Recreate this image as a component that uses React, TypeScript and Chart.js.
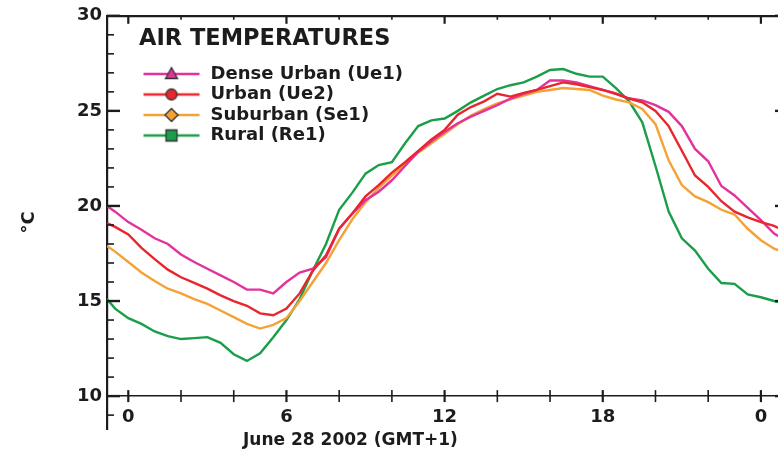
import React, { useEffect, useRef } from 'react';
import { Chart, registerables } from 'chart.js';

Chart.register(...registerables);

// ---- data (hours after midnight, June 28 2002, GMT+1) ----
const HOURS = [-0.81, -0.5, 0, 0.5, 1, 1.5, 2, 2.5, 3, 3.5, 4, 4.5, 5, 5.5, 6, 6.5, 7, 7.5, 8, 8.5, 9, 9.5, 10, 10.5, 11, 11.5, 12, 12.5, 13, 13.5, 14, 14.5, 15, 15.5, 16, 16.5, 17, 17.5, 18, 18.5, 19, 19.5, 20, 20.5, 21, 21.5, 22, 22.5, 23, 23.5, 24, 24.5, 24.8];

const DENSE_URBAN = [20.0, 19.7, 19.15, 18.75, 18.3, 18.0, 17.45, 17.05, 16.7, 16.35, 16.0, 15.6, 15.6, 15.4, 16.0, 16.5, 16.7, 17.3, 18.8, 19.6, 20.3, 20.75, 21.35, 22.1, 22.85, 23.4, 23.9, 24.35, 24.7, 25.0, 25.3, 25.65, 25.9, 26.1, 26.6, 26.6, 26.5, 26.3, 26.1, 25.9, 25.65, 25.55, 25.3, 24.95, 24.2, 23.0, 22.35, 21.05, 20.55, 19.9, 19.25, 18.55, 18.3];

const URBAN = [19.1, 18.9, 18.5, 17.8, 17.2, 16.65, 16.25, 15.95, 15.65, 15.3, 15.0, 14.75, 14.35, 14.25, 14.6, 15.4, 16.6, 17.4, 18.8, 19.6, 20.5, 21.1, 21.75, 22.3, 22.9, 23.5, 24.0, 24.8, 25.2, 25.5, 25.9, 25.75, 25.95, 26.1, 26.3, 26.5, 26.4, 26.25, 26.1, 25.9, 25.65, 25.45, 25.0, 24.2, 22.9, 21.6, 21.0, 20.25, 19.7, 19.4, 19.15, 18.95, 18.75];

const SUBURBAN = [17.9, 17.6, 17.05, 16.5, 16.05, 15.65, 15.4, 15.1, 14.85, 14.5, 14.15, 13.8, 13.55, 13.75, 14.1, 15.0, 16.0, 17.0, 18.2, 19.3, 20.2, 20.95, 21.6, 22.2, 22.8, 23.3, 23.8, 24.3, 24.75, 25.1, 25.4, 25.6, 25.8, 26.0, 26.1, 26.2, 26.15, 26.1, 25.8, 25.6, 25.45, 25.1, 24.3, 22.4, 21.1, 20.5, 20.2, 19.8, 19.55, 18.8, 18.2, 17.75, 17.6];

const RURAL = [15.1, 14.6, 14.1, 13.8, 13.4, 13.15, 13.0, 13.05, 13.1, 12.8, 12.2, 11.85, 12.25, 13.1, 14.0, 15.1, 16.6, 18.0, 19.8, 20.7, 21.7, 22.15, 22.3, 23.3, 24.2, 24.5, 24.6, 25.0, 25.45, 25.8, 26.15, 26.35, 26.5, 26.8, 27.15, 27.2, 26.95, 26.8, 26.8, 26.2, 25.5, 24.4, 22.1, 19.7, 18.3, 17.65, 16.7, 15.95, 15.9, 15.35, 15.2, 15.0, 14.9];

const SERIES_LABELS = ['Dense Urban (Ue1)', 'Urban (Ue2)', 'Suburban (Se1)', 'Rural (Re1)'];

const X_TICKS = [0, 2, 4, 6, 8, 10, 12, 14, 16, 18, 20, 22, 24];
const X_TICK_LABELS = ['0', '', '', '6', '', '', '12', '', '', '18', '', '', '0'];
const Y_TICKS = [9, 10, 11, 12, 13, 14, 15, 16, 17, 18, 19, 20, 21, 22, 23, 24, 25, 26, 27, 28, 29, 30];
const Y_LABELED = [10, 15, 20, 25, 30];

const LEGEND_TITLE = 'AIR TEMPERATURES';
const X_CAPTION = 'June 28 2002 (GMT+1)';
const Y_CAPTION = '°C';

// ---- styles ----
const FONT = '"DejaVu Sans", "Liberation Sans", sans-serif';
const INK = '#1c1c1c';
const COLORS = ['#e2339c', '#e8262e', '#f4a234', '#1b9e4a'];
const MARKERS = ['triangle', 'circle', 'diamond', 'square'];
const X_MIN = -0.808;
const X_MAX = 24.8;
const Y_MIN = 8.27;
const Y_MAX = 30;

function legendSwatch(color: string, marker: string): HTMLCanvasElement {
  const c = document.createElement('canvas');
  c.width = 60;
  c.height = 18;
  const g = c.getContext('2d') as CanvasRenderingContext2D;
  g.strokeStyle = color;
  g.lineWidth = 2.5;
  g.beginPath();
  g.moveTo(2, 9);
  g.lineTo(58, 9);
  g.stroke();
  const cx = 30;
  const cy = 9;
  g.fillStyle = color;
  g.strokeStyle = '#333';
  g.lineWidth = 1.3;
  g.beginPath();
  if (marker === 'triangle') {
    g.moveTo(cx, cy - 6.5);
    g.lineTo(cx + 6, cy + 4.5);
    g.lineTo(cx - 6, cy + 4.5);
    g.closePath();
  } else if (marker === 'circle') {
    g.arc(cx, cy, 5.5, 0, Math.PI * 2);
  } else if (marker === 'diamond') {
    g.moveTo(cx, cy - 6.5);
    g.lineTo(cx + 6.5, cy);
    g.lineTo(cx, cy + 6.5);
    g.lineTo(cx - 6.5, cy);
    g.closePath();
  } else {
    g.rect(cx - 5.5, cy - 5.5, 11, 11);
  }
  g.fill();
  g.stroke();
  return c;
}

const frameTicks = {
  id: 'frameTicks',
  afterDatasetsDraw(chart: any) {
    const { ctx, chartArea: a, scales } = chart;
    const x = scales.x;
    const y = scales.y;
    const seg = (x1: number, y1: number, x2: number, y2: number) => {
      ctx.beginPath();
      ctx.moveTo(x1, y1);
      ctx.lineTo(x2, y2);
      ctx.stroke();
    };
    ctx.save();
    ctx.strokeStyle = INK;
    const yBase = y.getPixelForValue(10);
    for (const t of x.ticks) {
      const h = t.value;
      const px = x.getPixelForValue(h);
      const major = h % 6 === 0;
      ctx.lineWidth = major ? 2.2 : 1.6;
      seg(px, yBase - 6, px, yBase + 6);
      seg(px, a.top, px, a.top + (major ? 8 : 4));
    }
    for (const t of y.ticks) {
      const v = t.value;
      const py = y.getPixelForValue(v);
      const major = v % 5 === 0;
      ctx.lineWidth = major ? 2.4 : 1.6;
      seg(a.left, py, a.left + (major ? 13 : 7), py);
      seg(a.right, py, a.right - (major ? 7 : 4), py);
    }
    ctx.restore();
  },
};

const xCaption = {
  id: 'xCaption',
  afterDraw(chart: any) {
    const { ctx, chartArea: a } = chart;
    ctx.save();
    ctx.font = `bold 17px ${FONT}`;
    ctx.fillStyle = INK;
    ctx.textAlign = 'left';
    ctx.textBaseline = 'middle';
    ctx.fillText(X_CAPTION, a.left + 136, a.bottom + 12);
    ctx.restore();
  },
};

const legendOffset = {
  id: 'legendOffset',
  afterLayout(chart: any) {
    const lg = chart.legend;
    if (!lg) return;
    const w = lg.width;
    lg.left = chart.chartArea.left + 32;
    lg.right = lg.left + w;
  },
};

export default function App() {
  const ref = useRef<HTMLCanvasElement | null>(null);

  useEffect(() => {
    if (!ref.current) return;
    const swatches = COLORS.map((c, i) => legendSwatch(c, MARKERS[i]));
    const seriesValues = [DENSE_URBAN, URBAN, SUBURBAN, RURAL];
    const drawOrder = [1, 0, 2, 3];
    const tickFont = { family: FONT, size: 18, weight: 'bold' as const };

    const chart = new Chart(ref.current, {
      type: 'line',
      data: {
        datasets: seriesValues.map((vals, i) => ({
          label: SERIES_LABELS[i],
          data: HOURS.map((h, j) => ({ x: h, y: vals[j] })),
          borderColor: COLORS[i],
          backgroundColor: COLORS[i],
          borderWidth: 2.4,
          pointRadius: 0,
          tension: 0,
          order: drawOrder[i],
          xAxisID: 'x',
          yAxisID: 'y',
        })),
      },
      options: {
        animation: false,
        responsive: false,
        devicePixelRatio: 1,
        events: [],
        layout: { padding: { left: 0, top: 15, right: 8, bottom: 25 } },
        scales: {
          x: {
            type: 'linear',
            axis: 'x',
            position: { y: 10 } as any,
            min: X_MIN,
            max: X_MAX,
            afterBuildTicks: (s: any) => {
              s.ticks = X_TICKS.map((v) => ({ value: v }));
            },
            ticks: {
              autoSkip: false,
              maxRotation: 0,
              padding: 10,
              color: INK,
              font: tickFont,
              callback: (_v: any, i: number) => X_TICK_LABELS[i] ?? '',
            },
            grid: { display: true, drawOnChartArea: false, drawTicks: false },
            border: { display: true, color: INK, width: 1.6 },
          },
          xTop: {
            type: 'linear',
            axis: 'x',
            position: 'top',
            min: X_MIN,
            max: X_MAX,
            ticks: { display: false },
            grid: { display: true, drawOnChartArea: false, drawTicks: false },
            border: { display: true, color: INK, width: 2.2 },
            afterFit: (s: any) => {
              s.height = 0;
            },
          },
          y: {
            type: 'linear',
            axis: 'y',
            position: 'left',
            min: Y_MIN,
            max: Y_MAX,
            afterBuildTicks: (s: any) => {
              s.ticks = Y_TICKS.map((v) => ({ value: v }));
            },
            afterFit: (s: any) => {
              s.width = 107;
            },
            ticks: {
              autoSkip: false,
              padding: 5,
              color: INK,
              font: tickFont,
              callback: (v: any) => (Y_LABELED.includes(Number(v)) ? String(v) : ''),
            },
            grid: { display: true, drawOnChartArea: false, drawTicks: false },
            border: { display: true, color: INK, width: 2.2 },
            title: {
              display: true,
              text: Y_CAPTION,
              color: INK,
              font: { family: FONT, size: 18, weight: 'bold' },
              padding: { top: 19, bottom: 0 },
            },
          },
          yRight: {
            type: 'linear',
            axis: 'y',
            position: 'right',
            min: Y_MIN,
            max: Y_MAX,
            ticks: { display: false },
            grid: { display: true, drawOnChartArea: false, drawTicks: false },
            border: { display: true, color: INK, width: 2.2 },
            afterFit: (s: any) => {
              s.width = 0;
            },
          },
        },
        plugins: {
          tooltip: { enabled: false },
          legend: {
            display: true,
            position: 'chartArea',
            align: 'start',
            title: {
              display: true,
              text: LEGEND_TITLE,
              position: 'start',
              color: INK,
              font: { family: FONT, size: 22.5, weight: 'bold' },
              padding: { top: 28, bottom: 7.5 },
            },
            labels: {
              usePointStyle: true,
              pointStyleWidth: 60,
              padding: 2.5,
              color: INK,
              font: { family: FONT, size: 18, weight: 'bold' },
              generateLabels: () =>
                SERIES_LABELS.map((text, i) => ({
                  text,
                  fillStyle: COLORS[i],
                  strokeStyle: COLORS[i],
                  lineWidth: 0,
                  pointStyle: swatches[i],
                  hidden: false,
                  datasetIndex: i,
                  fontColor: INK,
                })),
            },
          },
        },
      } as any,
      plugins: [frameTicks, xCaption, legendOffset],
    });
    return () => chart.destroy();
  }, []);

  return (
    <div
      style={{
        position: 'fixed',
        left: 0,
        top: 0,
        width: 778,
        height: 454,
        overflow: 'hidden',
        background: '#fff',
      }}
    >
      <canvas ref={ref} width={790} height={454} style={{ display: 'block', width: 790, height: 454 }} />
    </div>
  );
}
